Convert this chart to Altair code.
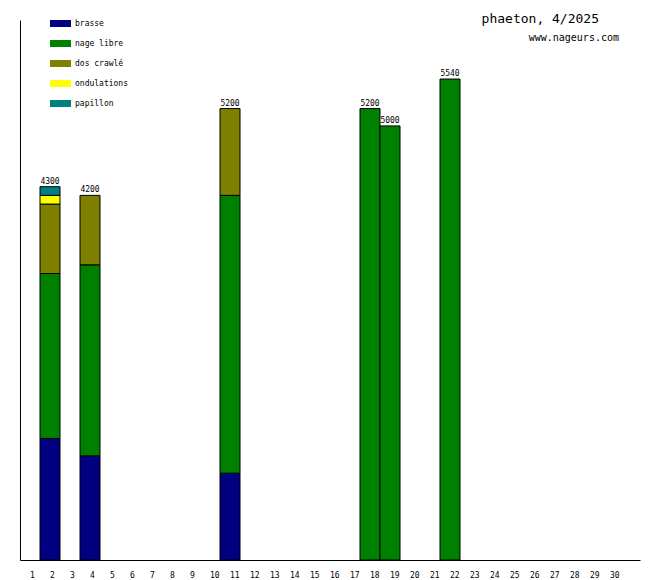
import altair as alt
import pandas as pd

days = [2, 4, 11, 18, 19, 22]
strokes = ["brasse", "nage libre", "dos crawlé", "ondulations", "papillon"]
colors = ["#000080", "#008000", "#808000", "#ffff00", "#008080"]
brasse = [1400, 1200, 1000, 0, 0, 0]
nage_libre = [1900, 2200, 3200, 5200, 5000, 5540]
dos_crawle = [800, 800, 1000, 0, 0, 0]
ondulations = [100, 0, 0, 0, 0, 0]
papillon = [100, 0, 0, 0, 0, 0]
all_days = list(range(1, 32))
title_text = "phaeton, 4/2025"
site_text = "www.nageurs.com"

series = [brasse, nage_libre, dos_crawle, ondulations, papillon]
rows = []
for si, (name, vals) in enumerate(zip(strokes, series)):
    for d, v in zip(days, vals):
        if v > 0:
            rows.append({"day": d, "nage": name, "m": v, "ord": si})
df = pd.DataFrame(rows)

FONT = "DejaVu Sans Mono"

xenc = alt.X(
    "day:O",
    scale=alt.Scale(domain=all_days, paddingInner=0, paddingOuter=0),
    axis=alt.Axis(
        title=None, ticks=False, grid=False, domainColor="black", domainWidth=1,
        labelAngle=0, labelAlign="left", labelFont=FONT, labelFontSize=8,
        labelColor="black", labelPadding=11,
        labelExpr="datum.value > 30 ? '' : datum.label",
    ),
)
yscale = alt.Scale(domain=[0, 6220], nice=False)

bars = alt.Chart(df).mark_bar(stroke="black", strokeWidth=1).encode(
    x=xenc,
    y=alt.Y(
        "m:Q", stack="zero", scale=yscale,
        axis=alt.Axis(title=None, labels=False, ticks=False, grid=False,
                      domainColor="black", domainWidth=1),
    ),
    color=alt.Color(
        "nage:N",
        scale=alt.Scale(domain=strokes, range=colors),
        legend=alt.Legend(
            title=None, orient="none", legendX=30, legendY=-7,
            symbolType="M-1,-0.3333H1V0.3333H-1Z", symbolSize=441,
            symbolStrokeWidth=0, symbolOpacity=1,
            labelFont=FONT, labelFontSize=8, labelColor="black",
            labelOffset=4, rowPadding=5, padding=0,
        ),
    ),
    order=alt.Order("ord:Q"),
)

totals = alt.Chart(df).transform_aggregate(
    total="sum(m)", groupby=["day"]
).mark_text(font=FONT, fontSize=8, baseline="bottom", dy=-1, color="black").encode(
    x=xenc,
    y=alt.Y("total:Q", scale=yscale),
    text=alt.Text("total:Q", format="d"),
)

title = alt.Chart(pd.DataFrame({"t": [title_text]})).mark_text(
    font=FONT, fontSize=13, align="right", baseline="alphabetic", color="black"
).encode(text="t:N", x=alt.value(579), y=alt.value(3))

site = alt.Chart(pd.DataFrame({"t": [site_text]})).mark_text(
    font=FONT, fontSize=10, align="right", baseline="alphabetic", color="black"
).encode(text="t:N", x=alt.value(599), y=alt.value(21))

chart = alt.layer(bars, totals, title, site).properties(
    width=620, height=540,
    autosize=alt.AutoSizeParams(type="none"),
    padding={"left": 12, "top": 12, "right": 12, "bottom": 20},
    background="white",
).configure_view(strokeWidth=0)

chart.save("out.html", embed_options={"renderer": "svg", "actions": False})
